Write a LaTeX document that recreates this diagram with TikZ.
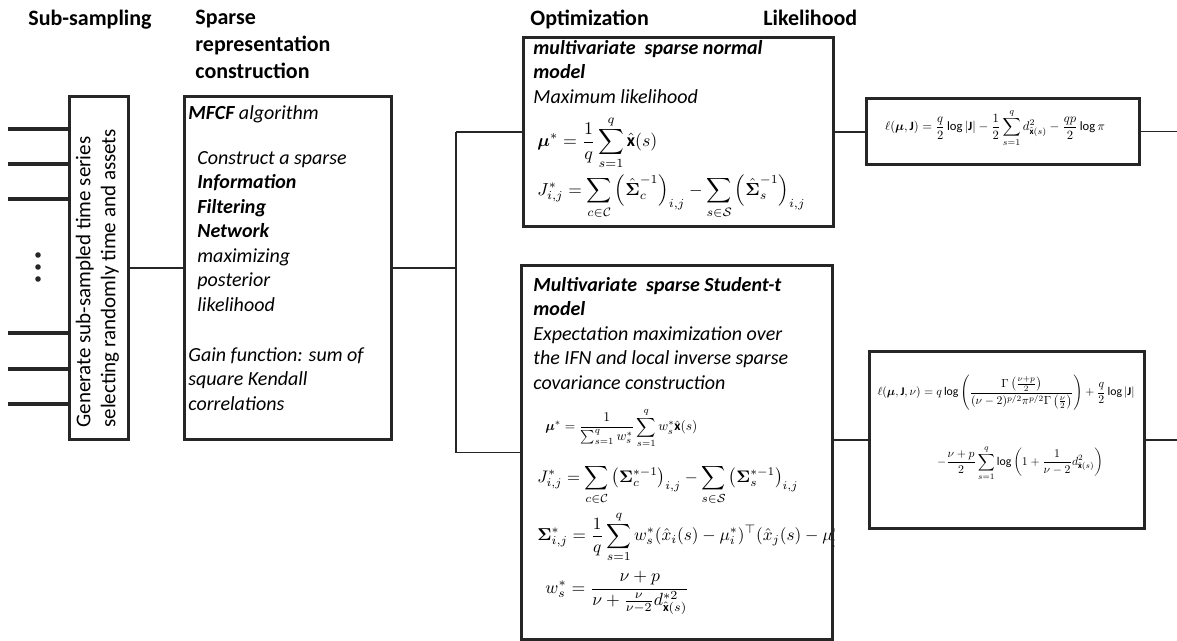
\documentclass[tikz,border=0pt]{standalone}
\usepackage{amsmath,amssymb,bm}
\usepackage{fontspec}
\setmainfont{Carlito}
\usetikzlibrary{positioning,calc}

\begin{document}
\begin{tikzpicture}[x=0.5pt,y=-0.5pt,
  box/.style={draw=black!85,line width=1.6pt,anchor=north west,inner sep=0pt},
  link/.style={black!85,line width=0.8pt},
  stub/.style={black!85,line width=1.6pt},
  head/.style={font=\fontsize{11}{13.5}\selectfont\bfseries,anchor=north west,inner sep=0pt,align=left},
  txt/.style={font=\fontsize{10}{12.25}\selectfont\itshape,anchor=north west,inner sep=0pt,align=left},
  eq/.style={anchor=west,inner sep=0pt},
  smalleq/.style={inner sep=0pt}]
  \useasboundingbox (0,0) rectangle (1177,641);

  % column headers
  \node[head] (hsub) at (28,10) {Sub-sampling};
  \node[head] (hsparse) at (195,10) {Sparse\\representation\\construction};
  \node[head] (hopt) at (530,10) {Optimization};
  \node[head] (hlik) at (763,10) {Likelihood};

  % boxes
  \node[box,minimum width=29.5pt,minimum height=171.5pt] (sub) at (68,95) {};
  \node[box,minimum width=103.5pt,minimum height=171.5pt] (sparse) at (183,95) {};
  \node[box,minimum width=155pt,minimum height=94.5pt] (normal) at (522,36) {};
  \node[box,minimum width=155.5pt,minimum height=187pt] (student) at (520,264) {};
  \node[box,minimum width=136.5pt,minimum height=33pt] (lik1) at (865,97) {};
  \node[box,minimum width=137.5pt,minimum height=88.5pt] (lik2) at (868,350) {};

  % sub-sampling
  \node[rotate=90,anchor=west,align=left,inner sep=0pt,font=\fontsize{10.5}{12.5}\selectfont] (tsub) at (97.5,428)
    {Generate sub-sampled time series\\selecting randomly time and assets};
  \foreach \y in {129,164,199,333,369,404} {
    \coordinate (in\y) at (8,\y);
    \draw[stub] (in\y) -- (in\y -| sub.west);
  }
  \foreach \y in {255,267,279} \fill[black!85] (38,\y) circle (1.4pt);

  % sparse representation
  \node[txt] (tmfcf) at (188,105) {\textbf{MFCF} algorithm};
  \node[txt] (tifn) at (197,151) {Construct a sparse\\\textbf{Information}\\\textbf{Filtering}\\\textbf{Network}\\maximizing\\posterior\\likelihood};
  \node[txt] (tgain) at (188,347) {Gain function: sum of\\square Kendall\\correlations};

  % normal model
  \node[txt] (tnormal) at (533,40) {\textbf{multivariate\ \ sparse normal}\\\textbf{model}\\Maximum likelihood};
  \node[eq] (munormal) at (537,143) {\resizebox{60pt}{!}{$\displaystyle \bm{\mu}^*=\frac{1}{q}\sum_{s=1}^{q}\hat{\mathbf{x}}(s)$}};
  \node[eq] (jnormal) at (537,197) {\resizebox{134pt}{!}{$\displaystyle J^*_{i,j}=\sum_{c\in\mathcal{C}}\left(\hat{\bm{\Sigma}}_c^{-1}\right)_{i,j}-\sum_{s\in\mathcal{S}}\left(\hat{\bm{\Sigma}}_s^{-1}\right)_{i,j}$}};

  % student-t model
  \node[txt] (tstudent) at (533,277) {\textbf{Multivariate\ \ sparse Student-t}\\\textbf{model}\\Expectation maximization over\\the IFN and local inverse sparse\\covariance construction};
  \node[eq] (mustudent) at (545,428) {\resizebox{76pt}{!}{$\displaystyle\bm{\mu}^*=\frac{1}{\sum_{s=1}^q w_s^*}\sum_{s=1}^q w_s^*\hat{\mathbf{x}}(s)$}};
  \node[eq] (jstudent) at (537,485) {\resizebox{130.5pt}{!}{$\displaystyle J^*_{i,j}=\sum_{c\in\mathcal{C}}\left(\bm{\Sigma}_c^{*-1}\right)_{i,j}-\sum_{s\in\mathcal{S}}\left(\bm{\Sigma}_s^{*-1}\right)_{i,j}$}};
  \begin{scope}
    \clip (student.north west) rectangle (student.south east);
    \node[eq] (sigstudent) at (537,537) {\resizebox{155pt}{!}{$\displaystyle\bm{\Sigma}^*_{i,j}=\frac{1}{q}\sum_{s=1}^q w_s^*(\hat{x}_i(s)-\mu_i^*)^\top(\hat{x}_j(s)-\mu_j^*)$}};
  \end{scope}
  \node[eq] (wstudent) at (545,593) {\resizebox{72pt}{!}{$\displaystyle w_s^*=\frac{\nu+p}{\nu+\frac{\nu}{\nu-2}d^{*2}_{\hat{\mathbf{x}}(s)}}$}};

  % likelihoods
  \node[smalleq] (elik1) at (995,128) {\resizebox{110pt}{!}{$\displaystyle\ell(\bm{\mu},\mathbf{J})=\frac{q}{2}\log|\mathbf{J}|-\frac{1}{2}\sum_{s=1}^q d^2_{\hat{\mathbf{x}}(s)}-\frac{qp}{2}\log\pi$}};
  \node[smalleq] (elik2a) at (1006,393) {\resizebox{128.5pt}{!}{$\displaystyle\ell(\bm{\mu},\mathbf{J},\nu)=q\log\left(\frac{\Gamma\left(\frac{\nu+p}{2}\right)}{(\nu-2)^{p/2}\pi^{p/2}\Gamma\left(\frac{\nu}{2}\right)}\right)+\frac{q}{2}\log|\mathbf{J}|$}};
  \node[smalleq] (elik2b) at (1020,463) {\resizebox{83pt}{!}{$\displaystyle-\frac{\nu+p}{2}\sum_{s=1}^q\log\left(1+\frac{1}{\nu-2}d^2_{\hat{\mathbf{x}}(s)}\right)$}};

  % connectors
  \coordinate (split) at (456,269);
  \coordinate (out) at (1177,128);
  \draw[link] (sub.east) -- (sub.east -| sparse.west);
  \draw[link] (sparse.east) -- (sparse.east -| split);
  \draw[link] (split |- normal.west) -- (split |- student.west);
  \draw[link] (split |- normal.west) -- (normal.west);
  \draw[link] (split |- student.west) -- (student.west);
  \draw[link] (normal.east) -- (normal.east -| lik1.west);
  \draw[link] (student.east |- lik2.west) -- (lik2.west);
  \draw[link] (lik1.east) -- (lik1.east -| out);
  \draw[link] (lik2.east) -- (lik2.east -| out);
\end{tikzpicture}
\end{document}
